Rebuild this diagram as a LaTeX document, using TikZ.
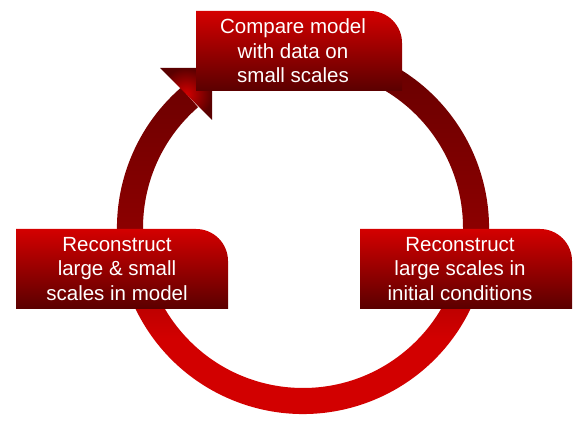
\documentclass[tikz,border=0pt]{standalone}
\usepackage{fontspec}
\setmainfont{Liberation Sans}
\usepackage{tikz}
\usetikzlibrary{calc}
\definecolor{ringlow}{HTML}{D20000}
\definecolor{ringmid}{HTML}{8E0000}
\definecolor{ringhigh}{HTML}{720000}
\definecolor{ringtop}{HTML}{680000}
\definecolor{boxtop}{HTML}{D40000}
\definecolor{boxbottom}{HTML}{5A0000}
\pgfdeclareverticalshading{ringshade}{100bp}{color(0bp)=(ringlow);
  color(38bp)=(ringlow); color(51bp)=(ringmid); color(68bp)=(ringhigh);
  color(75bp)=(ringtop); color(100bp)=(ringtop)}
\tikzset{
  ring/.style={shading=ringshade},
  headtip/.style={inner color=boxtop, outer color=boxbottom},
  tabbox/.style={top color=boxtop, bottom color=boxbottom},
  tabtext/.style={text=white, align=center, inner sep=0pt,
    font=\fontsize{20.5}{24.5}\selectfont}
}

\begin{document}
\begin{tikzpicture}[x=1pt,y=1pt]
        \useasboundingbox (0,0) rectangle (588,427);
        \coordinate (ctr) at (303,199);
        % the ring and its head
        \shade[ring] ([shift={(ctr)}]70:186) arc[start angle=70,
        end angle=-229, radius=186] -- ([shift={(ctr)}]-229:160)
        arc[start angle=-229, end angle=70, radius=160] -- cycle;
        \shade[headtip] (160,359) -- (212,359) -- (212,307) -- cycle;
        % the three boxes
        \shade[tabbox] (196,336) -- (196,416) -- (370,416)
        arc[start angle=90, end angle=0, radius=32] -- (402,336) -- cycle;
        \shade[tabbox] (16,118) -- (16,198) -- (196,198)
        arc[start angle=90, end angle=0, radius=32] -- (228,118) -- cycle;
        \shade[tabbox] (360,118) -- (360,198) -- (540,198)
        arc[start angle=90, end angle=0, radius=32] -- (572,118) -- cycle;
        \node[tabtext] (compare) at (293,376) {Compare model\\with data
        on\\small scales};
        \node[tabtext] (model) at (117,158) {Reconstruct\\large \&
        small\\scales in model};
        \node[tabtext] (initial) at (460,158) {Reconstruct\\large scales
        in\\initial conditions};
      \end{tikzpicture}
\end{document}
